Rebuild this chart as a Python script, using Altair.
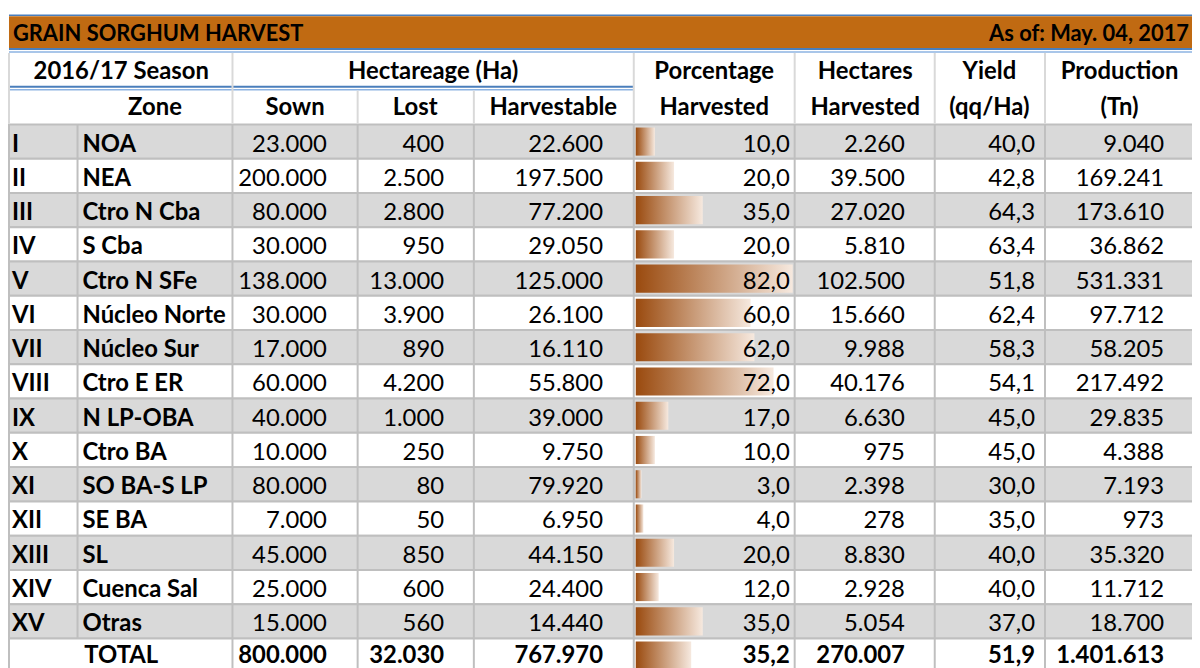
import altair as alt
import pandas as pd

# ---------------- data ----------------
roman = ["I", "II", "III", "IV", "V", "VI", "VII", "VIII", "IX", "X",
         "XI", "XII", "XIII", "XIV", "XV"]
zones = ["NOA", "NEA", "Ctro N Cba", "S Cba", "Ctro N SFe", "Núcleo Norte",
         "Núcleo Sur", "Ctro E ER", "N LP-OBA", "Ctro BA", "SO BA-S LP",
         "SE BA", "SL", "Cuenca Sal", "Otras"]
sown = [23000, 200000, 80000, 30000, 138000, 30000, 17000, 60000, 40000,
        10000, 80000, 7000, 45000, 25000, 15000]
lost = [400, 2500, 2800, 950, 13000, 3900, 890, 4200, 1000, 250, 80, 50,
        850, 600, 560]
harvestable = [22600, 197500, 77200, 29050, 125000, 26100, 16110, 55800,
               39000, 9750, 79920, 6950, 44150, 24400, 14440]
pct_harvested = [10.0, 20.0, 35.0, 20.0, 82.0, 60.0, 62.0, 72.0, 17.0,
                 10.0, 3.0, 4.0, 20.0, 12.0, 35.0]
ha_harvested = [2260, 39500, 27020, 5810, 102500, 15660, 9988, 40176, 6630,
                975, 2398, 278, 8830, 2928, 5054]
yield_qq = [40.0, 42.8, 64.3, 63.4, 51.8, 62.4, 58.3, 54.1, 45.0, 45.0,
            30.0, 35.0, 40.0, 40.0, 37.0]
production = [9040, 169241, 173610, 36862, 531331, 97712, 58205, 217492,
              29835, 4388, 7193, 973, 35320, 11712, 18700]

total_label = "TOTAL"
total_sown = 800000
total_lost = 32030
total_harvestable = 767970
total_pct = 35.2
total_ha_harvested = 270007
total_yield = 51.9
total_production = 1401613

title_text = "GRAIN SORGHUM HARVEST"
date_text = "As of:  May. 04, 2017"
season_text = "2016/17 Season"
group_text = "Hectareage (Ha)"
zone_header = "Zone"
sub_headers = ["Sown", "Lost", "Harvestable"]
two_line_headers = [["Porcentage", "Harvested"], ["Hectares", "Harvested"],
                    ["Yield", "(qq/Ha)"], ["Production", "(Tn)"]]

# ---------------- style ----------------
FONT = "Lato"
FS = 24
TFS = 22
OFF = 8  # page margin
ORANGE = "#C06A12"
BLUE = "#4A7EBB"
BLUE_L = "#8DB3E2"
GRID = "#BFBFBF"
HGRID = "#D9D9D9"
SHADE = "#D9D9D9"


def fmt_int(v):
    return f"{v:,.0f}".replace(",", ".")


def fmt_dec(v):
    return f"{v:.1f}".replace(".", ",")


keys = roman + [total_label]
df = pd.DataFrame({
    "key": keys,
    "roman": roman + [""],
    "zone": zones + [""],
    "sown": [fmt_int(v) for v in sown + [total_sown]],
    "lost": [fmt_int(v) for v in lost + [total_lost]],
    "harv": [fmt_int(v) for v in harvestable + [total_harvestable]],
    "pct": pct_harvested + [total_pct],
    "pct_s": [fmt_dec(v) for v in pct_harvested + [total_pct]],
    "hah": [fmt_int(v) for v in ha_harvested + [total_ha_harvested]],
    "yld": [fmt_dec(v) for v in yield_qq + [total_yield]],
    "prod": [fmt_int(v) for v in production + [total_production]],
    "shade": [i % 2 == 0 for i in range(len(roman))] + [False],
    "is_total": [False] * len(roman) + [True],
})

Y = alt.Y("key:N", sort=None, axis=None,
          scale=alt.Scale(domain=keys, range=[123 - OFF, 123 - OFF + 34.5 * len(keys)],
                          paddingInner=0, paddingOuter=0))

rows = alt.Chart(df)
one = alt.Chart(pd.DataFrame({"k": [0]}))


def px(v):
    return alt.value(v - OFF)


layers = []

# row backgrounds with borders
layers.append(rows.mark_rect(stroke=GRID, strokeWidth=2).encode(
    y=Y, x=px(9), x2=px(1215),
    fill=alt.condition("datum.shade", alt.value(SHADE), alt.value("white"))))

# vertical grid lines in data rows
for xv in [78, 234, 360, 477, 638, 800, 941, 1052]:
    src = rows.transform_filter("!datum.is_total") if xv == 78 else rows
    layers.append(src.mark_rect(fill=GRID).encode(
        y=Y, x=px(xv - 1), x2=px(xv + 1)))

# title bar
layers.append(one.mark_rect(fill=ORANGE).encode(
    x=px(9), x2=px(1215), y=px(14), y2=px(46)))
layers.append(one.mark_rule(color=BLUE, strokeWidth=1.5).encode(
    x=px(9), x2=px(1215), y=px(13)))
layers.append(one.mark_rule(color=BLUE, strokeWidth=2).encode(
    x=px(9), x2=px(1215), y=px(47)))
layers.append(one.mark_rule(color=BLUE_L, strokeWidth=1.5).encode(
    x=px(9), x2=px(1215), y=px(50)))
# double line under first header row
layers.append(one.mark_rule(color=BLUE, strokeWidth=2).encode(
    x=px(9), x2=px(638), y=px(85)))
layers.append(one.mark_rule(color=BLUE_L, strokeWidth=1.5).encode(
    x=px(9), x2=px(638), y=px(88)))

# header vertical lines
for xv, y1 in [(9, 51), (234, 51), (360, 89), (477, 89), (638, 51),
               (800, 51), (941, 51), (1052, 51)]:
    layers.append(one.mark_rule(color=HGRID, strokeWidth=2).encode(
        x=px(xv), y=px(y1), y2=px(122)))

# percentage data bars
grad = alt.Gradient(
    gradient="linear",
    stops=[alt.GradientStop(color="#9A4A0E", offset=0),
           alt.GradientStop(color="#F6E9DF", offset=1)],
    x1=0, x2=1, y1=0, y2=0)
layers.append(rows.transform_filter("!datum.is_total").mark_bar(
    fill=grad, height=alt.RelativeBandSize(band=0.82)).encode(
    y=Y,
    x=alt.X("pct:Q", axis=None,
            scale=alt.Scale(domain=[0, 100], range=[640 - OFF, 640 - OFF + 192.7],
                            nice=False, zero=True))))
layers.append(rows.transform_filter("datum.is_total").mark_bar(
    fill=grad, height=alt.RelativeBandSize(band=0.82)).encode(
    y=Y,
    x=alt.X("pct:Q", axis=None,
            scale=alt.Scale(domain=[0, 100], range=[640 - OFF, 640 - OFF + 158.5],
                            nice=False, zero=True))))


def hlabel(text, x, y, align="center", size=FS):
    return one.mark_text(font=FONT, fontSize=size, fontWeight="bold",
                         align=align, baseline="middle", color="black").encode(
        x=px(x), y=px(y), text=alt.value(text))


layers.append(hlabel(title_text, 13, 32, "left", TFS))
layers.append(hlabel(date_text, 1197, 32, "right", TFS))
layers.append(hlabel(season_text, 122, 70))
layers.append(hlabel(group_text, 436, 70))
layers.append(hlabel(zone_header, 156, 106))
for t, xc in zip(sub_headers, [297, 418, 557]):
    layers.append(hlabel(t, xc, 106))
for (t1, t2), xc in zip(two_line_headers, [719, 871, 996, 1127]):
    layers.append(hlabel(t1, xc, 70))
    layers.append(hlabel(t2, xc, 106))

# data text
normal = rows.transform_filter("!datum.is_total")
total = rows.transform_filter("datum.is_total")
DY = 3
TDY = 0
layers.append(normal.mark_text(font=FONT, fontSize=FS, fontWeight="bold",
                               align="left", baseline="middle", dy=DY).encode(
    y=Y, x=px(12), text="roman:N"))
layers.append(normal.mark_text(font=FONT, fontSize=FS, fontWeight="bold",
                               align="left", baseline="middle", dy=DY).encode(
    y=Y, x=px(83), text="zone:N"))
layers.append(total.mark_text(font=FONT, fontSize=FS, fontWeight="bold",
                              align="center", baseline="middle", dy=TDY).encode(
    y=Y, x=px(122), text=alt.value(total_label)))

num_cols = [("sown", 329), ("lost", 447), ("harv", 607), ("pct_s", 795),
            ("hah", 911), ("yld", 1042), ("prod", 1172)]
for field, xr in num_cols:
    layers.append(normal.mark_text(font=FONT, fontSize=FS, align="right",
                                   baseline="middle", dy=DY).encode(
        y=Y, x=px(xr), text=f"{field}:N"))
    layers.append(total.mark_text(font=FONT, fontSize=FS, fontWeight="bold",
                                  align="right", baseline="middle", dy=TDY).encode(
        y=Y, x=px(xr), text=f"{field}:N"))

chart = alt.layer(*layers).resolve_scale(x="independent").properties(
    width=1192, height=660, padding=0,
    autosize=alt.AutoSizeParams(type="none"),
    background="white",
).configure_view(stroke=None)

chart.save("out.html", embed_options={"renderer": "svg", "actions": False})
